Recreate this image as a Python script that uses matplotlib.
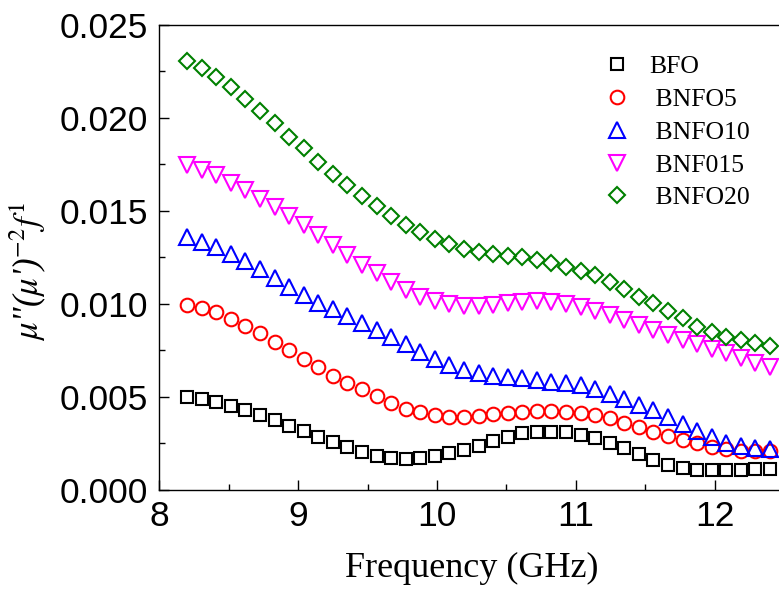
import numpy as np
import matplotlib
matplotlib.use("Agg")
import matplotlib.pyplot as plt
from matplotlib.ticker import MultipleLocator

# Frequency grid (GHz): X-band sweep 8.2-12.4 GHz, 41 points
freq = np.linspace(8.2, 12.4, 41)

# Values in units of 1e-3
bfo = [5.02, 4.89, 4.73, 4.53, 4.28, 4.03, 3.76, 3.46, 3.17, 2.87,
       2.56, 2.33, 2.06, 1.83, 1.72, 1.68, 1.72, 1.83, 1.97, 2.15,
       2.37, 2.65, 2.87, 3.05, 3.14, 3.14, 3.10, 2.96, 2.78, 2.51,
       2.24, 1.94, 1.61, 1.34, 1.17, 1.08, 1.05, 1.06, 1.10, 1.13, 1.15]
bnfo5 = [9.95, 9.80, 9.55, 9.19, 8.83, 8.42, 7.97, 7.53, 7.06, 6.59,
         6.15, 5.77, 5.41, 5.05, 4.66, 4.37, 4.20, 4.03, 3.94, 3.94,
         4.00, 4.07, 4.16, 4.21, 4.25, 4.25, 4.21, 4.16, 4.03, 3.85,
         3.62, 3.37, 3.14, 2.90, 2.69, 2.51, 2.33, 2.20, 2.11, 2.10, 2.10]
bnfo10 = [13.58, 13.33, 13.05, 12.69, 12.29, 11.90, 11.40, 10.92, 10.48, 10.07,
          9.71, 9.35, 8.96, 8.60, 8.21, 7.85, 7.40, 7.05, 6.70, 6.45,
          6.28, 6.15, 6.07, 6.00, 5.92, 5.83, 5.74, 5.62, 5.42, 5.15,
          4.87, 4.58, 4.28, 3.92, 3.55, 3.18, 2.85, 2.55, 2.35, 2.25, 2.22]
bnfo15 = [17.47, 17.22, 16.92, 16.51, 16.11, 15.66, 15.22, 14.75, 14.23, 13.69,
          13.15, 12.62, 12.10, 11.65, 11.20, 10.75, 10.39, 10.18, 10.00, 9.91,
          9.91, 9.96, 10.03, 10.10, 10.14, 10.12, 10.00, 9.84, 9.62, 9.39,
          9.14, 8.85, 8.60, 8.35, 8.06, 7.85, 7.60, 7.35, 7.10, 6.85, 6.60]
bnfo20 = [23.06, 22.67, 22.19, 21.68, 21.00, 20.38, 19.71, 19.00, 18.37, 17.65,
          16.99, 16.40, 15.81, 15.29, 14.73, 14.25, 13.85, 13.50, 13.22, 12.96,
          12.81, 12.69, 12.60, 12.51, 12.37, 12.19, 12.01, 11.79, 11.56, 11.20,
          10.79, 10.39, 10.04, 9.64, 9.23, 8.78, 8.48, 8.21, 8.06, 7.89, 7.74]

labels = ["BFO", " BNFO5", " BNFO10", " BNF015", " BNFO20"]
series = [bfo, bnfo5, bnfo10, bnfo15, bnfo20]
colors = ["#000000", "#ff0000", "#0000ff", "#ff00ff", "#008000"]
markers = ["s", "o", "^", "v", "D"]
msizes = [8.4, 9.8, 11.2, 11.2, 8.2]

plt.rcParams['mathtext.fontset'] = 'stix'

fig = plt.figure(figsize=(7.79, 5.95), dpi=100)
ax = fig.add_axes([0.2045, 0.1765, 0.8018, 0.7815])

for y, lab, c, m, ms in zip(series, labels, colors, markers, msizes):
    ax.plot(freq, np.array(y) * 1e-3, linestyle='none', marker=m, markersize=ms,
            markerfacecolor='none', markeredgecolor=c, markeredgewidth=1.5,
            label=lab)

ax.set_xlim(8, 12.5)
ax.set_ylim(0, 0.025)
ax.xaxis.set_major_locator(MultipleLocator(1))
ax.xaxis.set_minor_locator(MultipleLocator(0.5))
ax.yaxis.set_minor_locator(MultipleLocator(0.0025))
ax.set_yticks([0, 0.005, 0.010, 0.015, 0.020, 0.025])
ax.set_yticklabels(["0.000", "0.005", "0.010", "0.015", "0.020", "0.025"])
ax.tick_params(which='both', direction='in', top=False, right=False,
               labelsize=25.5, width=1.0)
ax.tick_params(which='major', length=7)
ax.tick_params(which='minor', length=4)
for lab in ax.get_xticklabels() + ax.get_yticklabels():
    lab.set_fontfamily('Liberation Sans')
ax.tick_params(axis='x', pad=7)
ax.tick_params(axis='y', pad=8)
for s in ax.spines.values():
    s.set_linewidth(1.0)
ax.spines['right'].set_visible(False)

ax.set_xlabel("Frequency (GHz)", fontfamily='Liberation Serif', fontsize=26, labelpad=14)
ax.set_ylabel(r"$\mu$''($\mu$')$^{-2}$$f^{1}$", fontfamily='Liberation Serif',
              style='italic', fontsize=25)
ax.yaxis.set_label_coords(-0.178, 0.47)

leg = ax.legend(loc='upper left', bbox_to_anchor=(0.776, 0.907),
                bbox_transform=fig.transFigure, frameon=False,
                prop={'family': 'Liberation Serif', 'size': 18.5},
                handlelength=1.0, handletextpad=0.75, labelspacing=0.38,
                borderaxespad=0, borderpad=0)

fig.savefig("out.png", dpi=100)
